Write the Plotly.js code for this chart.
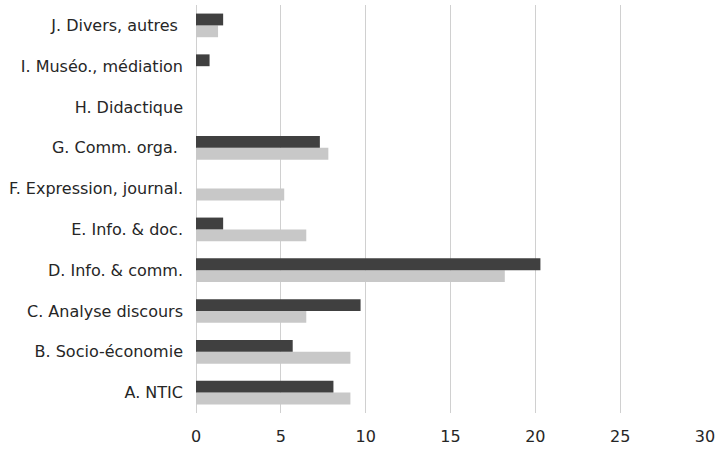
<!DOCTYPE html>
<html><head><meta charset="utf-8">
<script src="https://cdn.plot.ly/plotly-3.0.1.min.js"></script>
<style>body{margin:0;background:#fff}#c{width:715px;height:450px}</style>
</head><body><div id="c"></div>
<script>
var categories = ["A. NTIC","B. Socio-économie","C. Analyse discours","D. Info. & comm.","E. Info. & doc.","F. Expression, journal.","G. Comm. orga.\u00a0","H. Didactique","I. Muséo., médiation","J. Divers, autres\u00a0"];
var seriesDark = [8.1, 5.7, 9.7, 20.3, 1.6, 0, 7.3, 0, 0.8, 1.6];
var seriesLight = [9.1, 9.1, 6.5, 18.2, 6.5, 5.2, 7.8, 0, 0, 1.3];
var xTicks = [0, 5, 10, 15, 20, 25, 30];

var data = [
  {type:'bar', orientation:'h', y:categories, x:seriesLight, name:'B', marker:{color:'#c8c8c8'}, hoverinfo:'x'},
  {type:'bar', orientation:'h', y:categories, x:seriesDark, name:'A', marker:{color:'#404040'}, hoverinfo:'x'}
];
var layout = {
  width:715, height:450,
  margin:{l:196, r:10, t:5, b:37},
  barmode:'group', bargap:0.42, bargroupgap:0,
  showlegend:false,
  paper_bgcolor:'#fff', plot_bgcolor:'#fff',
  font:{family:'DejaVu Sans, Verdana, sans-serif', size:16, color:'#262626'},
  xaxis:{range:[0,30], tickvals:xTicks, showgrid:true, gridcolor:'#d0d0d0', gridwidth:1, zeroline:true, zerolinecolor:'#d0d0d0', zerolinewidth:1, showline:false, ticks:'', ticklen:0, ticklabelstandoff:12, ticklabeloverflow:'allow', tickfont:{size:16, color:'#262626'}, fixedrange:true},
  yaxis:{type:'category', categoryorder:'array', categoryarray:categories, showgrid:false, zeroline:false, showline:false, ticks:'', ticklabelstandoff:12, tickfont:{size:16, color:'#262626'}, fixedrange:true}
};
Plotly.newPlot('c', data, layout, {displayModeBar:false, staticPlot:true});
</script></body></html>
